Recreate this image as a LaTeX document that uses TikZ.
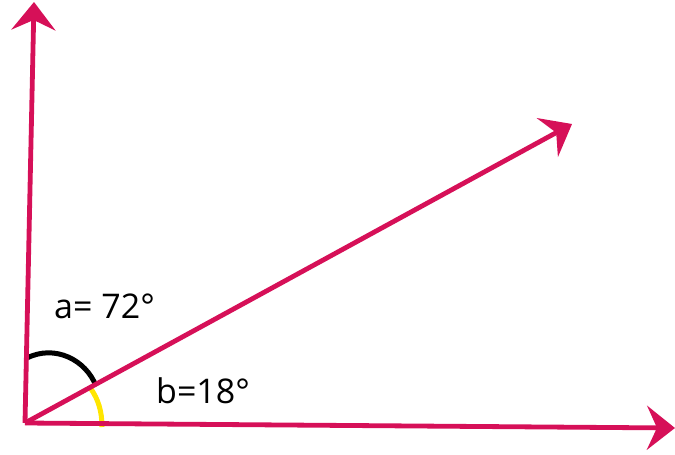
\documentclass[tikz,border=0pt]{standalone}
\usepackage{fontspec}
\setmainfont{Open Sans}
\usetikzlibrary{arrows.meta}
\definecolor{raycol}{RGB}{214,16,88}
\definecolor{arcyel}{RGB}{255,230,0}

\begin{document}
\begin{tikzpicture}[
  x=1pt, y=-1pt,
  ray/.style={raycol, line width=4.8pt,
              -{Stealth[length=28pt, width=44pt, inset=10pt]}},
  arcline/.style={line width=5pt},
  lbl/.style={font=\fontsize{34}{40}\selectfont, inner sep=0pt, anchor=base west}
]
  \useasboundingbox (0,0) rectangle (675,455);

  \coordinate (O)  at (25,423);
  \coordinate (tv) at (34,2);
  \coordinate (th) at (675,428);
  \coordinate (td) at (572,124);

  % angle marks
  \coordinate (a1) at (27,358);
  \coordinate (a2) at (96,386);
  \coordinate (b1) at (91,389);
  \coordinate (b2) at (102,427);
  \draw[arcline, black] (a1) .. controls (55,344) and (86,360) .. (a2);
  \draw[arcline, arcyel] (b1) .. controls (98,399) and (102,411) .. (b2);

  % rays
  \draw[ray] (O) -- (tv);
  \draw[ray] (O) -- (th);
  \draw[ray] (O) -- (td);

  \node[lbl] (la) at (54,318) {a= 72°};
  \node[lbl] (lb) at (156,403) {b=18°};
\end{tikzpicture}
\end{document}
